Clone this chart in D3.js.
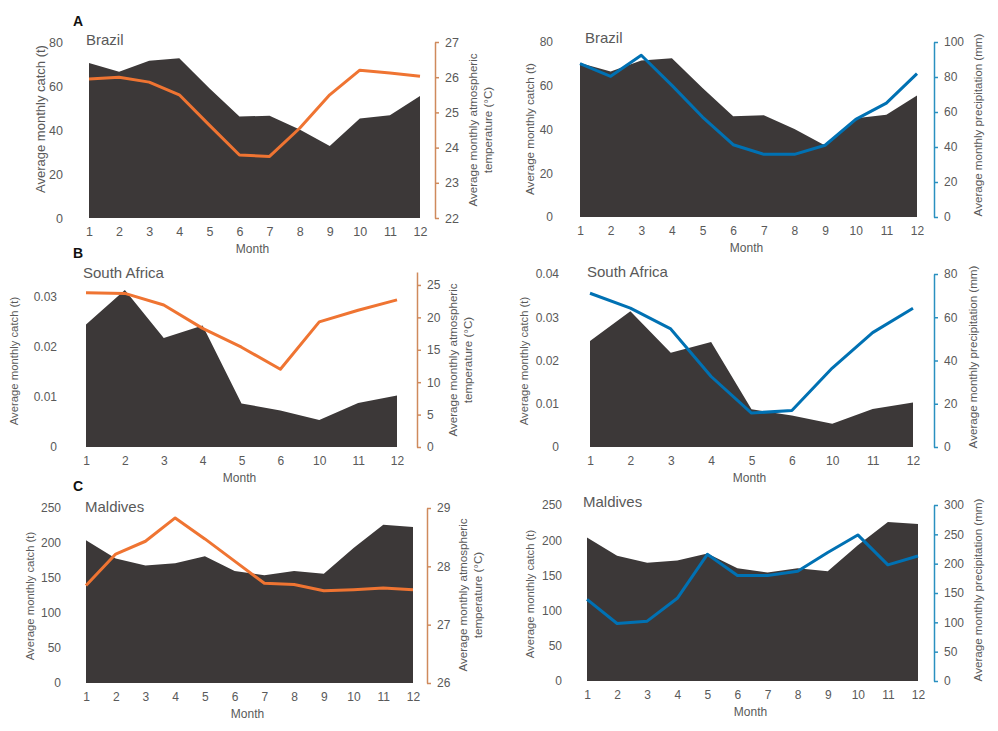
<!DOCTYPE html>
<html>
<head>
<meta charset="utf-8">
<script src="https://cdn.jsdelivr.net/npm/d3@7"></script>
<style>
  html, body { margin: 0; padding: 0; background: #fff; }
  svg { display: block; font-family: "Liberation Sans", Arial, sans-serif; }
</style>
</head>
<body>
<svg id="chart" width="998" height="731"></svg>
<script>
// ---------- DATA ----------
const months = ["1","2","3","4","5","6","7","8","9","10","11","12"];
const monthsSouthAfrica = ["1","2","3","4","5","6","10","11","12"];

const brazilCatch = [70.4, 66.5, 71.5, 72.6, 59.0, 46.1, 46.5, 40.2, 32.7, 45.2, 46.7, 55.5];
const brazilTemp = [25.95, 26.0, 25.86, 25.5, 24.64, 23.79, 23.75, 24.55, 25.5, 26.2, 26.12, 26.03];
const brazilPrecip = [87.6, 80.4, 92.4, 75.2, 57.1, 41.3, 35.8, 35.8, 41.0, 55.8, 65.1, 81.9];

const southAfricaCatch = [0.0245, 0.0314, 0.0218, 0.0243, 0.0087, 0.0073, 0.0054, 0.0088, 0.0103];
const southAfricaTemp = [23.8, 23.7, 21.9, 18.3, 15.4, 12.0, 19.3, 21.1, 22.7];
const southAfricaPrecip = [71.1, 64.2, 54.6, 32.6, 15.7, 16.9, 36.5, 52.9, 64.2];

const maldivesCatch = [204, 178, 168, 171, 181, 160, 154, 160, 156, 193, 226, 223];
const maldivesTemp = [27.67, 28.21, 28.43, 28.83, 28.47, 28.09, 27.71, 27.69, 27.58, 27.6, 27.63, 27.6];
const maldivesPrecip = [139, 98, 102, 141, 216, 180, 180, 187, 219, 249, 198, 213];

const brazilCatchTicks = [0, 20, 40, 60, 80];
const brazilTempTicks = [22, 23, 24, 25, 26, 27];
const brazilPrecipTicks = [0, 20, 40, 60, 80, 100];
const southAfricaCatchTicksTemp = [0, 0.01, 0.02, 0.03];
const southAfricaCatchTicksPrecip = [0, 0.01, 0.02, 0.03, 0.04];
const southAfricaTempTicks = [0, 5, 10, 15, 20, 25];
const southAfricaPrecipTicks = [0, 20, 40, 60, 80];
const maldivesCatchTicks = [0, 50, 100, 150, 200, 250];
const maldivesTempTicks = [26, 27, 28, 29];
const maldivesPrecipTicks = [0, 50, 100, 150, 200, 250, 300];

const countryNames = ["Brazil", "South Africa", "Maldives"];
const panelLetters = ["A", "B", "C"];
const leftTitle = "Average monthly catch (t)";
const tempTitle = ["Average monthly atmospheric", "temperature (°C)"];
const precipTitle = ["Average monthly precipitation (mm)"];
const xTitle = "Month";

// ---------- PANELS (data references) ----------
const panels = [
  { name: countryNames[0], cats: months, area: brazilCatch, line: brazilTemp, kind: "temp",
    lTicks: brazilCatchTicks, lDom: [0, 80], rTicks: brazilTempTicks, rDom: [22, 27] },
  { name: countryNames[0], cats: months, area: brazilCatch, line: brazilPrecip, kind: "precip",
    lTicks: brazilCatchTicks, lDom: [0, 80], rTicks: brazilPrecipTicks, rDom: [0, 100] },
  { name: countryNames[1], cats: monthsSouthAfrica, area: southAfricaCatch, line: southAfricaTemp, kind: "temp",
    lTicks: southAfricaCatchTicksTemp, lDom: [0, 0.035], rTicks: southAfricaTempTicks, rDom: [0, 27] },
  { name: countryNames[1], cats: monthsSouthAfrica, area: southAfricaCatch, line: southAfricaPrecip, kind: "precip",
    lTicks: southAfricaCatchTicksPrecip, lDom: [0, 0.04], rTicks: southAfricaPrecipTicks, rDom: [0, 80] },
  { name: countryNames[2], cats: months, area: maldivesCatch, line: maldivesTemp, kind: "temp",
    lTicks: maldivesCatchTicks, lDom: [0, 250], rTicks: maldivesTempTicks, rDom: [26, 29] },
  { name: countryNames[2], cats: months, area: maldivesCatch, line: maldivesPrecip, kind: "precip",
    lTicks: maldivesCatchTicks, lDom: [0, 250], rTicks: maldivesPrecipTicks, rDom: [0, 300] }
];

// ---------- LAYOUT ----------
const layout = [
  { x0: 89, x1: 420, yB: 218, yT: 42, ax: 435, lLab: 63, lTitle: [40, 119], lTitleSize: 13, rTitle: [480.5, 130], name: [86, 45], tickSize: 12.5 },
  { x0: 580, x1: 917, yB: 217, yT: 42, ax: 934, lLab: 553, lTitle: [530, 129], lTitleSize: 11.6, rTitle: [978, 125], name: [585, 43], tickSize: 12 },
  { x0: 86, x1: 397, yB: 447, yT: 272, ax: 417, lLab: 57, lTitle: [14, 361], lTitleSize: 11.3, rTitle: [460.5, 360], name: [83, 278], tickSize: 12 },
  { x0: 590, x1: 913, yB: 447, yT: 274, ax: 934, lLab: 559, lTitle: [524, 361], lTitleSize: 11.3, rTitle: [973, 357], name: [587, 277], tickSize: 12 },
  { x0: 86, x1: 413, yB: 683, yT: 508, ax: 427, lLab: 61, lTitle: [30, 596], lTitleSize: 11.3, rTitle: [470.5, 595], name: [85, 512], tickSize: 12 },
  { x0: 587, x1: 918, yB: 681, yT: 505, ax: 934, lLab: 562, lTitle: [530, 594], lTitleSize: 11.3, rTitle: [978, 590], name: [583, 507], tickSize: 12 }
];
const letterPos = [[73, 26], [73, 258], [73, 491]];

const textColor = "#595959";
const areaColor = "#3c3838";
const styleByKind = {
  temp: { line: "#ef7432", axis: "#cf8a5c" },
  precip: { line: "#0071b3", axis: "#2a90c0" }
};

const svg = d3.select("#chart");

panels.forEach((p, i) => {
  const L = layout[i];
  const st = styleByKind[p.kind];
  const g = svg.append("g");

  const x = d3.scalePoint().domain(p.cats).range([L.x0, L.x1]);
  const yL = d3.scaleLinear().domain(p.lDom).range([L.yB, L.yT]);
  const yR = d3.scaleLinear().domain(p.rDom).range([L.yB, L.yT]);

  // area
  const area = d3.area()
    .x((d, j) => x(p.cats[j]))
    .y0(yL(0))
    .y1(d => yL(d));
  g.append("path").datum(p.area)
    .attr("d", area)
    .attr("fill", areaColor);

  // line
  const line = d3.line()
    .x((d, j) => x(p.cats[j]))
    .y(d => yR(d));
  g.append("path").datum(p.line)
    .attr("d", line)
    .attr("fill", "none")
    .attr("stroke", st.line)
    .attr("stroke-width", 3)
    .attr("stroke-linejoin", "round");

  // left axis labels
  const leftAxis = d3.axisLeft(yL).tickValues(p.lTicks).tickSize(0).tickPadding(0)
    .tickFormat(d => d3.format("~g")(d));
  const lg = g.append("g").attr("transform", `translate(${L.lLab},0)`).call(leftAxis);
  lg.select(".domain").remove();
  lg.selectAll("text").attr("fill", textColor).attr("font-size", L.tickSize)
    .attr("font-family", '"Liberation Sans", Arial, sans-serif');

  // right axis
  const rightAxis = d3.axisRight(yR).tickValues(p.rTicks).tickSizeInner(4).tickSizeOuter(0).tickPadding(6)
    .tickFormat(d => d3.format("~g")(d));
  const rg = g.append("g").attr("transform", `translate(${L.ax},0)`).call(rightAxis);
  rg.select(".domain").attr("stroke", st.axis).attr("stroke-width", 1.5);
  rg.selectAll(".tick line").attr("stroke", st.axis).attr("stroke-width", 1.5);
  rg.selectAll("text").attr("fill", textColor).attr("font-size", L.tickSize)
    .attr("font-family", '"Liberation Sans", Arial, sans-serif');

  // bottom axis labels
  const bottomAxis = d3.axisBottom(x).tickSize(0).tickPadding(0);
  const bg = g.append("g").attr("transform", `translate(0,${L.yB + 9})`).call(bottomAxis);
  bg.select(".domain").remove();
  bg.selectAll("text").attr("fill", textColor).attr("font-size", L.tickSize)
    .attr("font-family", '"Liberation Sans", Arial, sans-serif');

  // x title
  g.append("text")
    .attr("x", (L.x0 + L.x1) / 2 - 2)
    .attr("y", L.yB + 34.5)
    .attr("text-anchor", "middle")
    .attr("fill", textColor)
    .attr("font-size", 12)
    .text(xTitle);

  // left title
  g.append("text")
    .attr("transform", `translate(${L.lTitle[0]},${L.lTitle[1]}) rotate(-90)`)
    .attr("dy", "0.35em")
    .attr("text-anchor", "middle")
    .attr("fill", textColor)
    .attr("font-size", L.lTitleSize)
    .text(leftTitle);

  // right title
  const rLines = p.kind === "temp" ? tempTitle : precipTitle;
  const rt = g.append("text")
    .attr("transform", `translate(${L.rTitle[0]},${L.rTitle[1]}) rotate(-90)`)
    .attr("text-anchor", "middle")
    .attr("fill", textColor)
    .attr("font-size", 11.6);
  const lh = 15;
  rLines.forEach((t, k) => {
    rt.append("tspan")
      .attr("x", 0)
      .attr("y", (k - (rLines.length - 1) / 2) * lh)
      .attr("dy", "0.35em")
      .text(t);
  });

  // country name
  g.append("text")
    .attr("x", L.name[0])
    .attr("y", L.name[1])
    .attr("fill", textColor)
    .attr("font-size", 15)
    .text(p.name);
});

panelLetters.forEach((t, i) => {
  svg.append("text")
    .attr("x", letterPos[i][0])
    .attr("y", letterPos[i][1])
    .attr("fill", "#111")
    .attr("font-size", 14)
    .attr("font-weight", "bold")
    .text(t);
});
</script>
</body>
</html>
